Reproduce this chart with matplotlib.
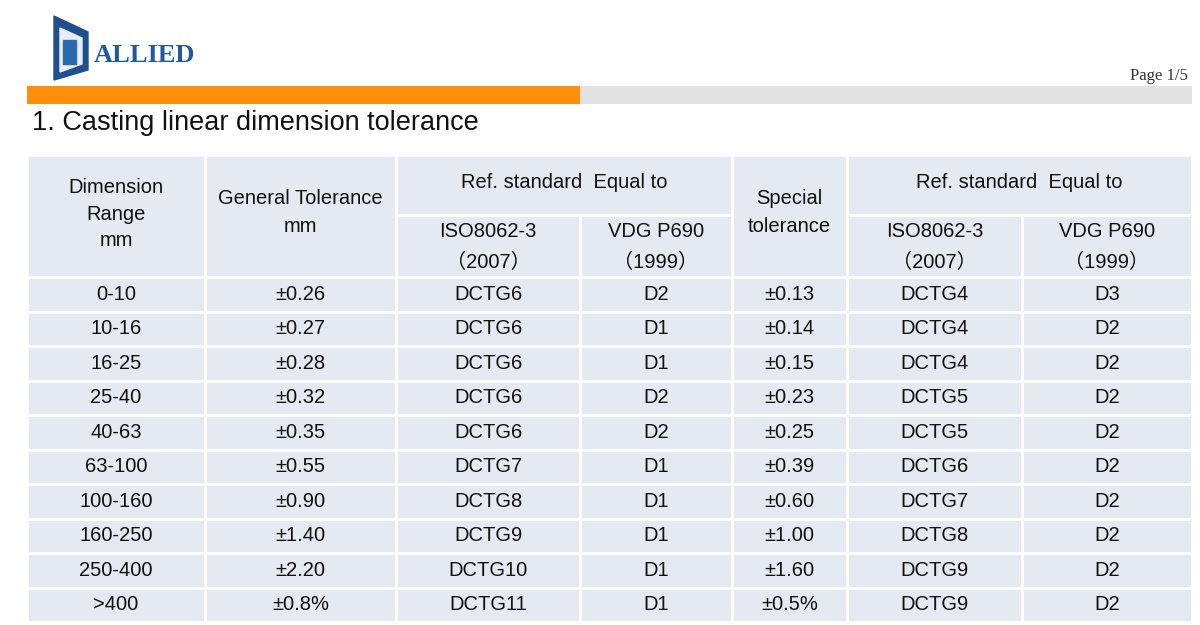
import matplotlib.pyplot as plt
from matplotlib.patches import Rectangle, Polygon

ranges = ["0-10", "10-16", "16-25", "25-40", "40-63", "63-100", "100-160", "160-250", "250-400", ">400"]
general_tol = ["±0.26", "±0.27", "±0.28", "±0.32", "±0.35", "±0.55", "±0.90", "±1.40", "±2.20", "±0.8%"]
iso_general = ["DCTG6", "DCTG6", "DCTG6", "DCTG6", "DCTG6", "DCTG7", "DCTG8", "DCTG9", "DCTG10", "DCTG11"]
vdg_general = ["D2", "D1", "D1", "D2", "D2", "D1", "D1", "D1", "D1", "D1"]
special_tol = ["±0.13", "±0.14", "±0.15", "±0.23", "±0.25", "±0.39", "±0.60", "±1.00", "±1.60", "±0.5%"]
iso_special = ["DCTG4", "DCTG4", "DCTG4", "DCTG5", "DCTG5", "DCTG6", "DCTG7", "DCTG8", "DCTG9", "DCTG9"]
vdg_special = ["D3", "D2", "D2", "D2", "D2", "D2", "D2", "D2", "D2", "D2"]

FONT = ['Liberation Sans', 'Noto Sans CJK SC', 'DejaVu Sans']
CELL = '#e5e9f2'

fig = plt.figure(figsize=(12, 6.25), dpi=100)
ax = fig.add_axes([0, 0, 1, 1])
ax.set_xlim(0, 1200)
ax.set_ylim(625, 0)
ax.axis('off')

# logo
ax.add_patch(Polygon([[54, 16], [88, 32], [88, 70], [54, 80]], closed=True, color='#1f4f8f'))
ax.add_patch(Polygon([[60, 28], [82, 38], [82, 64], [60, 72]], closed=True, color='#e8eef6'))
ax.add_patch(Rectangle((63, 40), 13, 24, color='#2a6bb0'))
ax.text(94, 55, "ALLIED", fontsize=19, fontweight='bold', family='Liberation Serif',
        color='#1f5aa0', va='center', ha='left')

ax.text(1188, 76, "Page 1/5", fontsize=12, family='Liberation Serif', color='#333333',
        ha='right', va='center')
ax.add_patch(Rectangle((27, 86), 553, 18, color='#ff8f0a', lw=0))
ax.add_patch(Rectangle((580, 86), 612, 18, color='#e2e2e2', lw=0))
ax.text(32, 123, "1. Casting linear dimension tolerance", fontsize=19.5, family=FONT,
        color='#111111', va='center', ha='left')

cols = [27, 205, 396, 580, 732, 847, 1022, 1192]
top, mid, hbot, bottom = 155, 215, 277, 622
rh = (bottom - hbot) / len(ranges)

def cell(x0, x1, y0, y1, txt, dy=0, ls=1.45):
    ax.add_patch(Rectangle((x0, y0), x1 - x0, y1 - y0, facecolor=CELL,
                           edgecolor='white', lw=2))
    ax.text((x0 + x1) / 2, (y0 + y1) / 2 + dy, txt, fontsize=14.5, family=FONT,
            color='#111111', ha='center', va='center', linespacing=ls)

# header
cell(cols[0], cols[1], top, hbot, "Dimension\nRange\nmm", dy=-2, ls=1.5)
cell(cols[1], cols[2], top, hbot, "General Tolerance\nmm", dy=-3, ls=1.6)
cell(cols[2], cols[4], top, mid, "Ref. standard  Equal to", dy=-2)
cell(cols[2], cols[3], mid, hbot, "ISO8062-3\n（2007）", dy=1, ls=1.75)
cell(cols[3], cols[4], mid, hbot, "VDG P690\n（1999）", dy=1, ls=1.75)
cell(cols[4], cols[5], top, hbot, "Special\ntolerance", dy=-3, ls=1.6)
cell(cols[5], cols[7], top, mid, "Ref. standard  Equal to", dy=-2)
cell(cols[5], cols[6], mid, hbot, "ISO8062-3\n（2007）", dy=1, ls=1.75)
cell(cols[6], cols[7], mid, hbot, "VDG P690\n（1999）", dy=1, ls=1.75)

columns = [ranges, general_tol, iso_general, vdg_general, special_tol, iso_special, vdg_special]
for i in range(len(ranges)):
    y0 = hbot + i * rh
    for j, col in enumerate(columns):
        cell(cols[j], cols[j + 1], y0, y0 + rh, col[i])

fig.savefig("out.png", dpi=100)
